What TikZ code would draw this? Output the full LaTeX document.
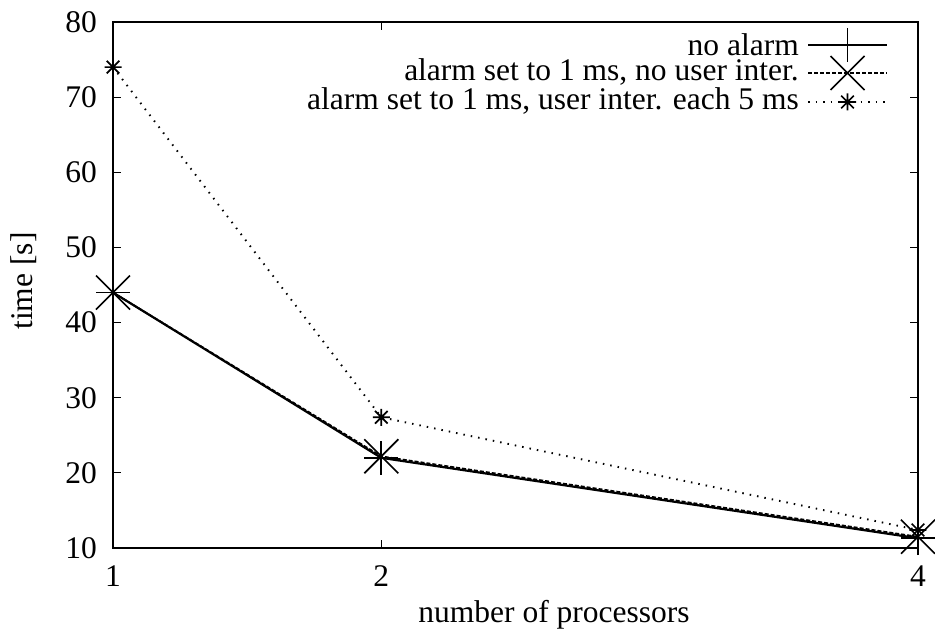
\documentclass[tikz,border=0pt]{standalone}
\usepackage{fontspec}
\setmainfont{Liberation Serif}
\usetikzlibrary{calc}
\begin{document}
\begin{tikzpicture}[x=1pt,y=1pt,
  lbl/.style={font=\fontsize{31.5}{34}\selectfont, inner sep=0pt},
  keytxt/.style={lbl, anchor=base east, text height=20pt, text depth=0pt},
  frame/.style={line width=1.3pt},
  tk/.style={line width=1.1pt},
  mk/.style={line width=1.7pt},
  s1/.style={line width=2.2pt},
  s2/.style={line width=1.7pt, dash pattern=on 4pt off 2pt},
  s3/.style={line width=1.9pt, dash pattern=on 1.5pt off 6pt},
  plusmk/.pic={\draw[mk] (-17pt,0)--(17pt,0) (0,-17pt)--(0,17pt);},
  crossmk/.pic={\draw[mk] (-17pt,-17pt)--(17pt,17pt) (-17pt,17pt)--(17pt,-17pt);},
  starmk/.pic={\draw[mk] (-8.5pt,0)--(8.5pt,0) (0,-8.5pt)--(0,8.5pt)
                 (-6.3pt,-6.3pt)--(6.3pt,6.3pt) (-6.3pt,6.3pt)--(6.3pt,-6.3pt);}
]
\useasboundingbox (0,0) rectangle (935,633);

% plot area: x in [1,4], y in [10,80]
\begin{scope}[shift={(113pt,85pt)}, x=268.33pt, y=7.514pt]
  \coordinate (ll) at (0,0);
  \coordinate (ur) at (3,70);

  % ticks on y
  \foreach \v in {10,20,...,80} {
    \draw[tk] (0,\v-10) -- ++(8pt,0);
    \draw[tk] (3,\v-10) -- ++(-8pt,0);
    \node[lbl, anchor=east] (yl\v) at ([xshift=-16pt]0,\v-10) {\v};
  }
  % ticks on x
  \foreach \v in {1,2,4} {
    \draw[tk] (\v-1,0) -- ++(0,8pt);
    \draw[tk] (\v-1,70) -- ++(0,-8pt);
    \node[lbl] (xl\v) at ([yshift=-28pt]\v-1,0) {\v};
  }
  \draw[frame] (ll) rectangle (ur);

  % data points
  \coordinate (a1) at (0,34);
  \coordinate (a2) at (1,12);
  \coordinate (a4) at (3,1.3);
  \coordinate (b1) at (0,34);
  \coordinate (b2) at (1,12.2);
  \coordinate (b4) at (3,1.5);
  \coordinate (c1) at (0,64);
  \coordinate (c2) at (1,17.4);
  \coordinate (c4) at (3,2.4);

  \draw[s3] (c1) -- (c2) -- (c4);
  \draw[s2] (b1) -- (b2) -- (b4);
  \draw[s1] (a1) -- (a2) -- (a4);

  \foreach \p in {a1,a2,a4} \pic at (\p) {plusmk};
  \foreach \p in {b1,b2,b4} \pic at (\p) {crossmk};
  \foreach \p in {c1,c2,c4} \pic at (\p) {starmk};
\end{scope}

% axis titles
\node[lbl, rotate=90] (ytitle) at (24,352) {time [s]};
\node[lbl] (xtitle) at (554,18) {number of processors};

% key
\coordinate (k1a) at (808,588); \coordinate (k1b) at (887,588);
\coordinate (k2a) at (808,560); \coordinate (k2b) at (887,560);
\coordinate (k3a) at (808,531); \coordinate (k3b) at (887,531);
\node[keytxt] (k1t) at (799,577.5) {no alarm};
\node[keytxt] (k2t) at (799,552.5) {alarm set to 1 ms, no user inter.};
\node[keytxt] (k3t) at (799,523.5) {alarm set to 1 ms, user inter. each 5 ms};
\draw[s1] (k1a) -- (k1b);
\draw[s2] (k2a) -- (k2b);
\draw[s3] (k3a) -- (k3b);
\pic at ($(k1a)!0.5!(k1b)$) {plusmk};
\pic at ($(k2a)!0.5!(k2b)$) {crossmk};
\pic at ($(k3a)!0.5!(k3b)$) {starmk};
\end{tikzpicture}
\end{document}
